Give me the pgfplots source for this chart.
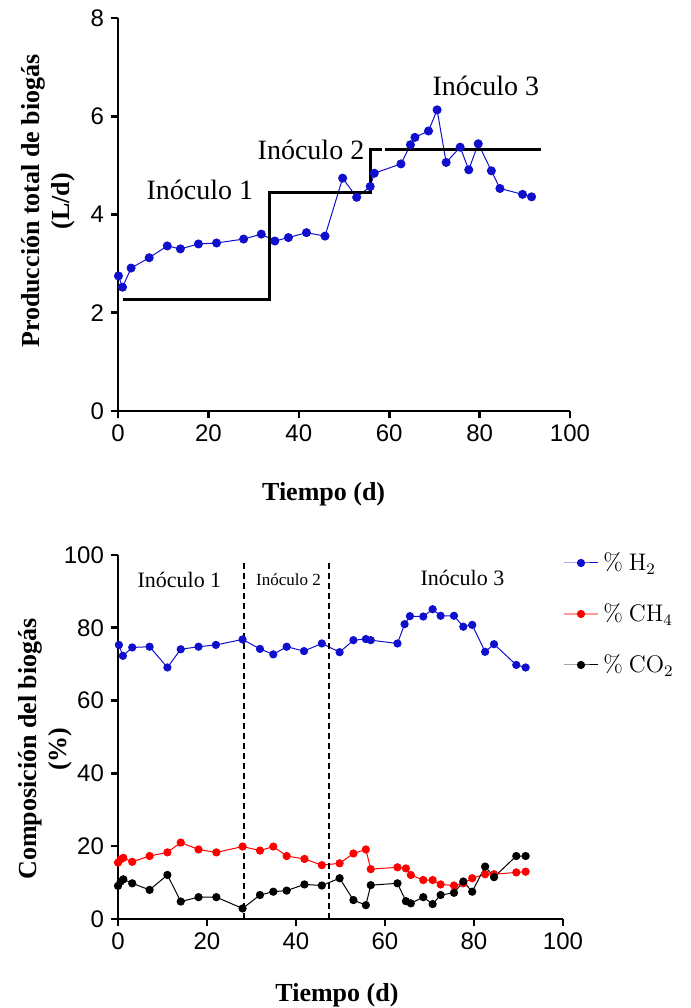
\documentclass[border=0pt]{standalone}
\usepackage[no-math]{fontspec}
\setmainfont{Liberation Serif}
\setsansfont{Liberation Sans}
\usepackage{pgfplots}
\usepackage{pgfplotstable}
\pgfplotsset{compat=1.18}

\definecolor{hblue}{RGB}{15,15,205}

% produccion total
\pgfplotstableread{
t v
0.1 2.75
1.0 2.52
2.9 2.91
6.9 3.12
10.9 3.36
13.8 3.30
17.8 3.40
21.8 3.42
27.8 3.50
31.7 3.60
34.7 3.46
37.7 3.53
41.7 3.63
45.8 3.56
49.7 4.74
52.8 4.35
55.8 4.57
56.7 4.84
62.6 5.03
64.7 5.42
65.7 5.57
68.7 5.70
70.6 6.13
72.6 5.06
75.7 5.37
77.6 4.91
79.7 5.44
82.6 4.89
84.5 4.53
89.5 4.41
91.5 4.36
}\prod

\pgfplotstableread{
t v
0.2 75.3
1.1 72.3
3.2 74.6
7.1 74.8
11.1 69.1
14.1 74.1
18.1 74.8
22.0 75.3
28.0 76.8
31.9 74.2
34.9 72.7
37.9 74.8
41.8 73.6
45.8 75.7
49.8 73.3
52.9 76.6
55.7 76.9
56.8 76.6
62.8 75.7
64.4 81.0
65.6 83.2
68.6 83.1
70.7 85.1
72.5 83.3
75.5 83.3
77.6 80.3
79.6 80.8
82.5 73.4
84.5 75.5
89.5 69.8
91.6 69.1
}\htwo

\pgfplotstableread{
t v
0.0 15.5
0.6 16.4
1.2 16.8
3.2 15.7
7.1 17.3
11.1 18.3
14.1 21.0
18.1 19.1
22.1 18.3
28.0 19.9
31.9 18.8
34.9 19.9
37.9 17.3
41.9 16.5
45.8 14.8
49.8 15.3
52.9 18.0
55.7 19.1
56.8 13.7
62.8 14.2
64.7 13.9
65.8 12.1
68.6 10.7
70.7 10.7
72.5 9.5
75.5 9.2
77.6 9.8
79.6 11.2
82.5 12.3
84.5 12.3
89.5 12.8
91.6 13.0
}\chfour

\pgfplotstableread{
t v
0.0 9.1
0.6 10.3
1.2 10.9
3.2 9.8
7.1 8.0
11.1 12.1
14.1 4.8
18.1 6.0
22.1 6.0
28.0 2.9
31.9 6.6
34.9 7.5
37.9 7.8
41.9 9.5
45.8 9.2
49.8 11.2
52.9 5.2
55.7 3.8
56.8 9.3
62.8 9.8
64.7 4.9
65.8 4.3
68.6 6.0
70.7 4.1
72.5 6.6
75.5 7.2
77.6 10.3
79.6 7.5
82.5 14.4
84.5 11.5
89.5 17.3
91.6 17.3
}\cotwo

\pgfplotsset{
  common/.style={
    scale only axis,
    axis x line*=bottom, axis y line*=left,
    axis line style={line width=1.3pt, -},
    tick style={line width=1.3pt, black},
    tick align=outside, major tick length=3.5pt,
    xmin=0, xmax=100, xtick={0,20,...,100},
    ticklabel style={font=\sffamily\fontsize{12}{12}\selectfont},
    /pgf/number format/assume math mode=true,
    label style={font=\bfseries\fontsize{13}{15}\selectfont, align=center},
    clip=false,
  }
}

\begin{document}
\begin{tikzpicture}
\useasboundingbox (0,0) rectangle (345.5pt,504pt);

\begin{axis}[common,
  at={(59pt,298.5pt)}, anchor=south west,
  width=226pt, height=196.5pt,
  ymin=0, ymax=8, ytick={0,2,...,8},
  xlabel={Tiempo (d)},
  xlabel style={at={(axis description cs:0.455,-0.165)}, anchor=north},
  ylabel={Producción total de biogás\\(L/d)},
  ylabel style={at={(axis description cs:-0.079,0.534)}, anchor=south},
]
\addplot[hblue, line width=0.5pt, mark=*, mark size=2pt] table[x=t, y=v] {\prod};
\addplot[black, line width=1.6pt, no marks] coordinates {(1.2,2.27) (33.5,2.27) (33.5,4.45) (55.8,4.45) (55.8,5.33) (58.3,5.33)};
\addplot[black, line width=1.6pt, no marks] coordinates {(59.1,5.33) (93.5,5.33)};
\node[font=\fontsize{14}{16}\selectfont] at (axis cs:18.1,4.5) {Inóculo 1};
\node[font=\fontsize{14}{16}\selectfont] at (axis cs:42.7,5.32) {Inóculo 2};
\node[font=\fontsize{14}{16}\selectfont] at (axis cs:81.4,6.62) {Inóculo 3};
\end{axis}

\begin{axis}[common,
  at={(59pt,44.5pt)}, anchor=south west,
  width=222.5pt, height=182pt,
  ymin=0, ymax=100, ytick={0,20,...,100},
  xlabel={Tiempo (d)},
  xlabel style={at={(axis description cs:0.492,-0.158)}, anchor=north},
  ylabel={Composición del biogás\\(\%)},
  ylabel style={at={(axis description cs:-0.088,0.467)}, anchor=south},
  legend style={at={(axis description cs:0.985,1.03)}, anchor=north west,
    draw=none, fill=none, font=\fontsize{12}{14}\selectfont, row sep=11pt},
  legend cell align=left,
]
\addplot[hblue, line width=0.5pt, mark=*, mark size=1.8pt] table[x=t, y=v] {\htwo};
\addlegendentry{$\%\ \mathrm{H}_2$}
\addplot[red, line width=0.5pt, mark=*, mark size=1.8pt,
  legend image code/.code={\draw[red!40, line width=1.2pt] (0cm,0cm) -- (0.6cm,0cm);
    \fill[red] (0.3cm,0cm) circle (1.8pt);}] table[x=t, y=v] {\chfour};
\addlegendentry{$\%\ \mathrm{CH}_4$}
\addplot[black, line width=0.5pt, mark=*, mark size=1.8pt] table[x=t, y=v] {\cotwo};
\addlegendentry{$\%\ \mathrm{CO}_2$}
\addplot[black, line width=1.1pt, dash pattern=on 3pt off 2pt, no marks, forget plot] coordinates {(28.3,0) (28.3,98.5)};
\addplot[black, line width=1.1pt, dash pattern=on 3pt off 2pt, no marks, forget plot] coordinates {(47.5,0) (47.5,98.5)};
\node[font=\fontsize{11}{13}\selectfont] at (axis cs:13.8,93.1) {Inóculo 1};
\node[font=\fontsize{8.5}{10}\selectfont] at (axis cs:38.3,93.1) {Inóculo 2};
\node[font=\fontsize{11}{13}\selectfont] at (axis cs:77.4,93.6) {Inóculo 3};
\end{axis}
\end{tikzpicture}
\end{document}
